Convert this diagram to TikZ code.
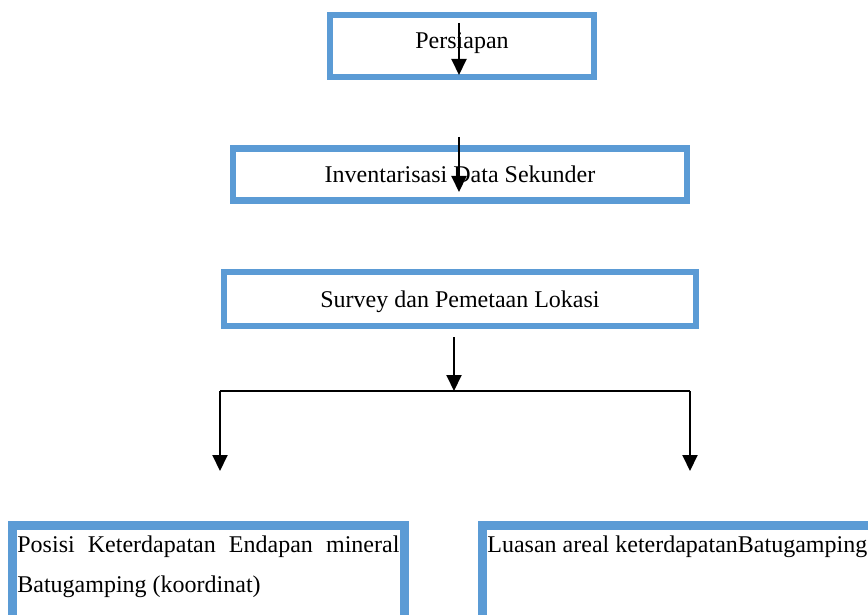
\documentclass[tikz,border=0pt]{standalone}
\usepackage{fontspec}
\setmainfont{Liberation Serif}
\usetikzlibrary{arrows.meta}
\definecolor{boxblue}{RGB}{91,155,213}

\begin{document}
\begin{tikzpicture}[x=0.5pt,y=-0.5pt,
    stepbox/.style={draw=boxblue, line width=3.25pt, inner sep=0pt,
      font=\fontsize{12}{14}\selectfont, text height=10pt, text depth=2pt},
    resultbox/.style={draw=boxblue, line width=4.5pt, inner sep=0pt, outer sep=0pt,
      anchor=north west, minimum width=196pt, minimum height=100pt},
    resulttext/.style={anchor=base west, inner sep=0pt,
      font=\fontsize{12}{20}\selectfont},
    flow/.style={line width=1pt, -{Triangle[length=8pt,width=7.5pt]}}]
  \clip (0,0) rectangle (868,615);
  % langkah
  \node[stepbox, minimum width=132pt, minimum height=31pt, text depth=7.5pt] (persiapan) at (462,46) {Persiapan};
  \node[stepbox, minimum width=227pt, minimum height=26pt] (inventaris) at (460,174.5) {Inventarisasi Data Sekunder};
  \node[stepbox, minimum width=236pt, minimum height=27pt] (survey) at (460,299) {Survey dan Pemetaan Lokasi};
  % hasil
  \node[resultbox] (posisi) at (12.5,525.5) {};
  \node[resultbox] (luasan) at (482.5,525.5) {};
  \node[resulttext, text width=191pt, align=justify] (posisitext) at (17,552)
    {Posisi Keterdapatan Endapan mineral Batugamping (koordinat)};
  \node[resulttext] (luasantext) at (487,552) {Luasan areal keterdapatanBatugamping};
  % panah
  \coordinate (p1) at (459,23);   \coordinate (p1end) at (459,75);
  \coordinate (p2) at (459,137);  \coordinate (p2end) at (459,192);
  \coordinate (p3) at (454,337);  \coordinate (split) at (454,391);
  \coordinate (left) at (220,391);  \coordinate (leftend) at (220,471);
  \coordinate (right) at (690,391); \coordinate (rightend) at (690,471);
  \draw[flow] (p1) -- (p1end);
  \draw[flow] (p2) -- (p2end);
  \draw[flow] (p3) -- (split);
  \draw[line width=1pt] (left) -- (right);
  \draw[flow] (left) -- (leftend);
  \draw[flow] (right) -- (rightend);
\end{tikzpicture}
\end{document}
